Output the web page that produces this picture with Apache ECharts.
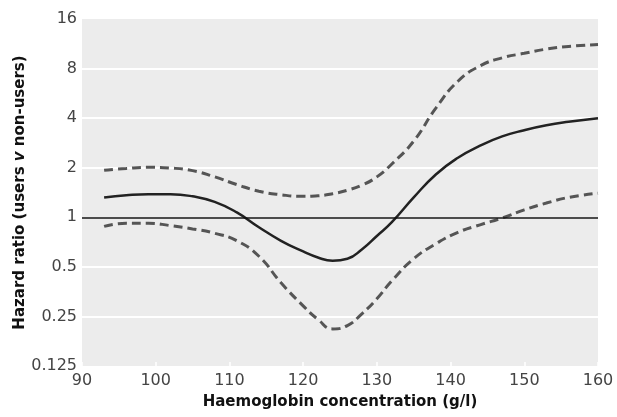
<!DOCTYPE html>
<html>
<head>
<meta charset="utf-8">
<script src="https://cdn.jsdelivr.net/npm/echarts@6/dist/echarts.min.js"></script>
<style>html,body{margin:0;padding:0;background:#fff;}#c{width:617px;height:417px;}</style>
</head>
<body>
<div id="c"></div>
<script>
var haemoglobin = [93, 96, 99, 102, 105, 108, 111, 114, 117, 120, 122, 124, 126, 128, 130, 132, 135, 138, 141, 144, 147, 150, 153, 156, 160];
var hazardRatio = [1.32, 1.36, 1.38, 1.38, 1.34, 1.24, 1.07, 0.87, 0.72, 0.62, 0.57, 0.545, 0.56, 0.64, 0.77, 0.93, 1.32, 1.82, 2.30, 2.72, 3.10, 3.38, 3.62, 3.80, 4.00];
var upperCI = [1.93, 1.98, 2.01, 1.99, 1.92, 1.76, 1.58, 1.44, 1.37, 1.34, 1.35, 1.39, 1.46, 1.57, 1.76, 2.10, 2.90, 4.60, 6.70, 8.30, 9.30, 9.90, 10.5, 10.9, 11.2];
var lowerCI = [0.88, 0.92, 0.92, 0.89, 0.85, 0.80, 0.72, 0.58, 0.40, 0.29, 0.24, 0.21, 0.22, 0.26, 0.32, 0.41, 0.56, 0.69, 0.81, 0.90, 0.99, 1.11, 1.22, 1.32, 1.40];
var yTicks = [0.125, 0.25, 0.5, 1, 2, 4, 8, 16];

function pairs(ys) { return haemoglobin.map(function (x, i) { return [x, ys[i]]; }); }

var chart = echarts.init(document.getElementById('c'), null, {renderer: 'canvas'});
var font = '"DejaVu Sans", sans-serif';
var titleFont = '"DejaVu Sans", sans-serif';
chart.setOption({
  animation: false,
  backgroundColor: '#fff',
  grid: {left: 82, right: 19, top: 19, bottom: 51, show: true, backgroundColor: '#ececec', borderWidth: 0},
  xAxis: {
    type: 'value', min: 90, max: 160, interval: 10,
    name: 'Haemoglobin concentration (g/l)', nameLocation: 'middle', nameGap: 29,
    nameTextStyle: {fontFamily: titleFont, fontWeight: 'bold', fontSize: 15, color: '#111'},
    axisLine: {show: false},
    axisTick: {show: true, inside: true, length: 4, lineStyle: {color: '#fff', width: 1.5}},
    axisLabel: {fontFamily: font, fontSize: 16, color: '#444', margin: 7},
    splitLine: {show: false}
  },
  yAxis: {
    type: 'log', logBase: 2, min: 0.125, max: 16,
    name: 'Hazard ratio (users {i|v} non-users)', nameLocation: 'middle', nameGap: 54,
    nameMoveOverlap: false,
    nameTextStyle: {fontFamily: titleFont, fontWeight: 'bold', fontSize: 15, color: '#111',
      rich: {i: {fontStyle: 'italic', fontWeight: 'bold', fontSize: 15, fontFamily: titleFont, color: '#111'}}},
    axisLine: {show: false},
    axisTick: {show: false},
    axisLabel: {fontFamily: font, fontSize: 16, color: '#444', margin: 5,
      formatter: function (v) { var r = Math.round(v * 1000) / 1000; return yTicks.indexOf(r) >= 0 ? String(r) : ''; }},
    splitLine: {show: true, lineStyle: {color: '#fff', width: 2},
      showMinLine: false, showMaxLine: false}
  },
  series: [
    {type: 'line', data: pairs(upperCI), smooth: 0.5, symbol: 'none',
      lineStyle: {color: '#555', width: 3, type: [9, 5]}, z: 3},
    {type: 'line', data: pairs(lowerCI), smooth: 0.5, symbol: 'none',
      lineStyle: {color: '#555', width: 3, type: [9, 5]}, z: 3},
    {type: 'line', data: pairs(hazardRatio), smooth: 0.5, symbol: 'none',
      lineStyle: {color: '#222', width: 2.5}, z: 4,
      markLine: {silent: true, symbol: 'none', label: {show: false},
        lineStyle: {color: '#111', width: 1.5, type: 'solid'},
        data: [{yAxis: 1}]}}
  ]
});
</script>
</body>
</html>
